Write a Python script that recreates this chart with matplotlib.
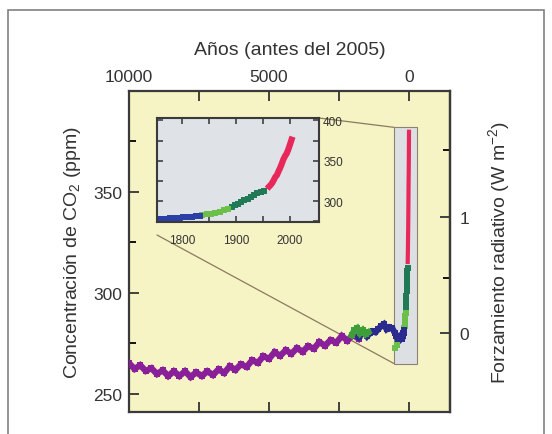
import numpy as np
import matplotlib
matplotlib.use("Agg")
import matplotlib.pyplot as plt
from matplotlib.patches import Rectangle, ConnectionPatch

plt.rcParams['font.family'] = ['Liberation Sans', 'DejaVu Sans']
plt.rcParams['mathtext.default'] = 'regular'

# --- data: years before 2005 (ice cores, pre-industrial) ---
purple_bp = [10000, 9800, 9600, 9400, 9200, 9000, 8800, 8600, 8400, 8200, 8000,
             7800, 7600, 7400, 7200, 7000, 6800, 6600, 6400, 6200, 6000, 5800,
             5600, 5400, 5200, 5000, 4800, 4600, 4400, 4200, 4000, 3800, 3600,
             3400, 3200, 3000, 2800, 2600, 2400, 2200, 2000, 1800]
purple_co2 = [265.2, 262.3, 264.2, 261.3, 262.7, 259.8, 261.7, 258.8, 261.2, 258.8, 261.2,
              258.3, 260.7, 258.8, 261.2, 259.3, 262.2, 260.3, 263.7, 261.8, 264.7, 263.3,
              266.7, 265.3, 268.7, 267.3, 270.7, 268.8, 271.7, 269.8, 272.7, 270.8, 273.7,
              272.3, 275.7, 273.8, 276.7, 275.3, 278.7, 276.3, 279.2, 277.3]
green_bp = [2050, 1950, 1850, 1750, 1650, 1550, 1450]
green_co2 = [279.0, 281.5, 282.5, 280.0, 281.5, 279.5, 280.5]
lgreen_bp = [500, 430]
lgreen_bp_co2 = [272.5, 274.0]
navy_bp = [1800, 1700, 1600, 1500, 1400, 1300, 1200, 1100, 1000, 900, 800, 700,
           600, 500, 450, 400, 350, 300, 260]
navy_co2 = [278.0, 279.5, 280.5, 278.5, 280.0, 281.0, 280.5, 282.0, 283.5, 284.5, 282.0, 283.0,
            282.5, 280.0, 278.5, 277.0, 278.0, 277.0, 277.5]

# --- data: industrial era (calendar years AD) ---
blue_ad = [1754, 1762, 1770, 1778, 1786, 1794, 1802, 1810, 1818, 1826, 1834]
blue_co2 = [277.5, 278.0, 277.2, 278.6, 279.0, 279.4, 280.0, 280.2, 280.8, 281.0, 281.6]
lgreen_ad = [1838, 1846, 1854, 1862, 1870, 1878, 1886]
lgreen_co2 = [282.5, 283.5, 284.5, 285.5, 287.0, 288.5, 290.0]
dgreen_ad = [1892, 1898, 1904, 1910, 1916, 1922, 1928, 1934, 1940, 1946, 1952]
dgreen_co2 = [292.0, 294.5, 296.0, 298.5, 301.0, 303.0, 305.5, 307.5, 309.5, 311.0, 312.5]
red_ad = [1958, 1961, 1964, 1967, 1970, 1973, 1976, 1979, 1982, 1985, 1988, 1991,
          1994, 1997, 2000, 2003, 2005]
red_co2 = [315.3, 317.6, 319.6, 322.2, 325.7, 329.7, 332.1, 336.8, 341.1, 346.1, 351.6, 355.6,
           358.8, 363.7, 369.6, 375.8, 379.8]

C_PURPLE, C_NAVY, C_BLUE = "#8a1f9a", "#2b2a8f", "#2c3fa6"
C_LGREEN, C_DGREEN, C_RED = "#6cc04a", "#1f7a55", "#e8275a"
C_GREEN = "#3d9e3a"
INK = "#333333"

W, H = 552, 435
fig = plt.figure(figsize=(W / 100, H / 100), dpi=100)
fig.add_artist(Rectangle((8 / W, -0.05), (544 - 8) / W, 1.05 - 11 / H, transform=fig.transFigure,
                         fill=False, ec="#808080", lw=1.2))

ax = fig.add_axes([129 / W, 1 - 413 / H, (450 - 129) / W, (413 - 92) / H])
ax.set_facecolor("#f6f3c4")
ax.set_xlim(10000, -1464)
ax.set_ylim(241, 400)


def bp(ad):
    return [2005 - a for a in ad]


band = dict(marker="s", ls="-", lw=4.5, ms=5, mew=0, solid_joinstyle="miter")
mk = dict(marker="s", ls="none", ms=4.5, mew=0)
ax.plot(purple_bp, purple_co2, color=C_PURPLE, zorder=3, **band)
ax.plot(navy_bp, navy_co2, color=C_NAVY, zorder=3, **band)
ax.plot(green_bp, green_co2, color=C_GREEN, zorder=3, **band)
ax.plot(lgreen_bp, lgreen_bp_co2, color=C_LGREEN, zorder=3, **mk)
ax.plot(bp(red_ad), red_co2, color=C_RED, lw=3, zorder=3)
ax.plot(bp(dgreen_ad), dgreen_co2, color=C_DGREEN, zorder=4, **mk)
ax.plot(bp(lgreen_ad), lgreen_co2, color=C_LGREEN, zorder=4, **mk)
ax.plot(bp(blue_ad), blue_co2, color=C_NAVY, zorder=4, **mk)

# zoom box around the industrial era
ax.add_patch(Rectangle((-290, 265), 826, 117, fc="#dde0e2", ec="#8b8275", lw=0.8, zorder=1.5))

ax.set_xticks([10000, 7500, 5000, 2500, 0])
ax.set_xticklabels(["10000", "", "5000", "", "0"])
ax.set_yticks([250, 300, 350])
ax.set_yticks([275, 325, 375], minor=True)
ax.tick_params(axis="x", which="both", direction="in", top=True, bottom=True,
               labeltop=True, labelbottom=False, length=7, width=1.3, pad=5,
               labelsize=12.5, colors=INK)
ax.tick_params(axis="y", which="major", direction="in", left=True, right=False,
               length=7, width=1.3, pad=5, labelsize=12.5, colors=INK)
ax.tick_params(axis="y", which="minor", direction="in", left=True, right=False,
               length=5, width=1.3)
ax.xaxis.set_label_position("top")
ax.set_xlabel("Años (antes del 2005)", fontsize=14, color=INK, labelpad=11)
ax.set_ylabel("Concentración de CO$_2$ (ppm)", fontsize=14, color=INK, labelpad=7)
for s in ax.spines.values():
    s.set_linewidth(1.6)
    s.set_color("#3a3a3a")


def fwd(c):
    return 5.35 * np.log(np.clip(c, 1e-6, None) / 280.0)


def inv(f):
    return 280.0 * np.exp(np.asarray(f) / 5.35)


sec = ax.secondary_yaxis("right", functions=(fwd, inv))
sec.set_yticks([0, 1])
sec.set_yticks([0.5, 1.5], minor=True)
sec.tick_params(which="major", direction="in", length=7, width=1.3, pad=7,
                labelsize=12.5, colors=INK)
sec.tick_params(which="minor", direction="in", length=5, width=1.3)
sec.spines["right"].set_linewidth(1.6)
sec.spines["right"].set_color("#3a3a3a")
sec.set_ylabel("Forzamiento radiativo (W m$^{-2}$)", fontsize=14, color=INK, labelpad=12)

# --- inset ---
ins = fig.add_axes([157 / W, 1 - 223 / H, (319 - 157) / W, (223 - 119) / H])
ins.set_facecolor("#dfe2e6")
ins.set_xlim(1754, 2054)
ins.set_ylim(274, 403)
imk = dict(marker="s", ls="none", ms=4, mew=0)
ins.plot(red_ad, red_co2, color=C_RED, lw=4.5, solid_capstyle="butt")
ins.plot(dgreen_ad, dgreen_co2, color=C_DGREEN, **imk)
ins.plot(lgreen_ad, lgreen_co2, color=C_LGREEN, **imk)
ins.plot(blue_ad, blue_co2, color=C_BLUE, **imk)
ins.set_xticks([1800, 1850, 1900, 1950, 2000])
ins.set_xticklabels(["1800", "", "1900", "", "2000"])
ins.set_yticks([275, 300, 325, 350, 375, 400])
ins.set_yticklabels(["", "300", "", "350", "", "400"])
ins.tick_params(which="both", direction="in", top=True, bottom=True, left=True, right=True,
                labelleft=False, labelright=True, length=4, width=1.1, labelsize=8.5,
                colors=INK)
ins.tick_params(axis="x", pad=9)
ins.tick_params(axis="y", pad=3)
for s in ins.spines.values():
    s.set_linewidth(1.5)
    s.set_color("#3a3a3a")

# connector lines from the inset to the zoom box
for xyA, xyB in [((1, 1), (536, 382)), ((0, -0.125), (536, 265))]:
    con = ConnectionPatch(xyA=xyA, coordsA=ins.transAxes, xyB=xyB, coordsB=ax.transData,
                          color="#8b7a60", lw=0.9, zorder=1.6)
    ax.add_artist(con)

fig.savefig("out.png", dpi=100)
